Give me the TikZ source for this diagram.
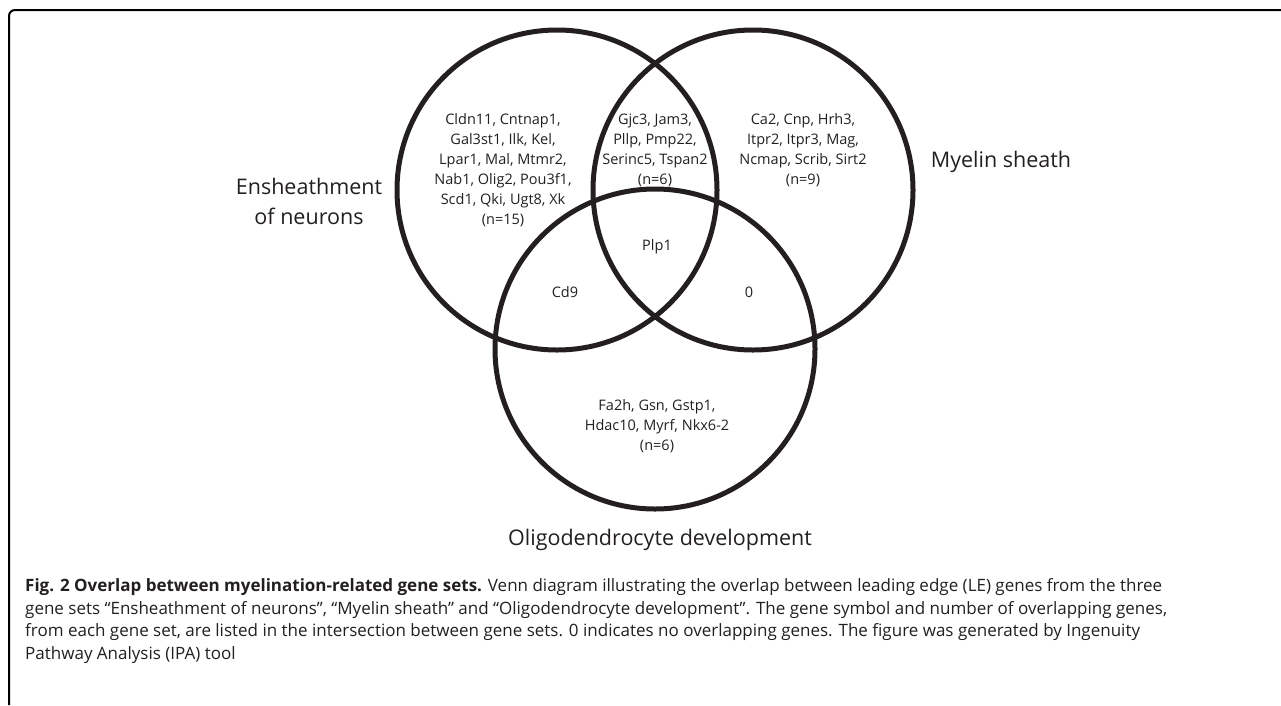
\documentclass[tikz,border=0pt]{standalone}
\usepackage{fontspec}
\setmainfont{Open Sans}
\usetikzlibrary{positioning}

\definecolor{ink}{HTML}{231F20}

\tikzset{
  ring/.style={circle,draw=ink,line width=5pt,minimum size=320pt,inner sep=0pt},
  genes/.style={align=center,font=\fontsize{14.5}{20}\selectfont,text=ink,inner sep=0pt},
  setname/.style={align=center,font=\fontsize{21.5}{30}\selectfont,text=ink,inner sep=0pt},
}

\begin{document}
\begin{tikzpicture}[x=1pt,y=-1pt]
\useasboundingbox (0,0) rectangle (1281,705);
% panel frame
\draw[line width=2pt,rounded corners=6pt] (9,705) -- (9,10) -- (1281,10);

% the three gene sets
\node[ring] (ens) at (557,190) {};
\node[ring] (mye) at (753,190) {};
\node[ring] (oli) at (655,349) {};

\node[setname] (ensname) at (309,201) {Ensheathment\\of neurons};
\node[setname,anchor=base] (myename) at (1001,167) {Myelin sheath};
\node[setname,anchor=base] (oliname) at (660,545) {Oligodendrocyte development};

% genes per region
\node[genes] (ensonly) at (503,170) {Cldn11, Cntnap1,\\Gal3st1, Ilk, Kel,\\Lpar1, Mal, Mtmr2,\\Nab1, Olig2, Pou3f1,\\Scd1, Qki, Ugt8, Xk\\(n=15)};
\node[genes] (ensmye) at (655,150) {Gjc3, Jam3,\\Pllp, Pmp22,\\Serinc5, Tspan2\\(n=6)};
\node[genes] (myeonly) at (803,150) {Ca2, Cnp, Hrh3,\\Itpr2, Itpr3, Mag,\\Ncmap, Scrib, Sirt2\\(n=9)};
\node[genes] (all) at (657,247) {Plp1};
\node[genes] (ensoli) at (565,292) {Cd9};
\node[genes] (myeoli) at (749,292) {0};
\node[genes] (olionly) at (657,426) {Fa2h, Gsn, Gstp1,\\Hdac10, Myrf, Nkx6-2\\(n=6)};

% caption (base = last line)
\node[anchor=base west,align=left,inner sep=0pt,text=ink,font=\fontsize{17}{22.5}\selectfont] (caption) at (25,659)
{\textbf{Fig. 2 Overlap between myelination-related gene sets.} Venn diagram illustrating the overlap between leading edge (LE) genes from the three\\
gene sets “Ensheathment of neurons”, “Myelin sheath” and “Oligodendrocyte development”. The gene symbol and number of overlapping genes,\\
from each gene set, are listed in the intersection between gene sets. 0 indicates no overlapping genes. The figure was generated by Ingenuity\\
Pathway Analysis (IPA) tool};
\end{tikzpicture}
\end{document}
